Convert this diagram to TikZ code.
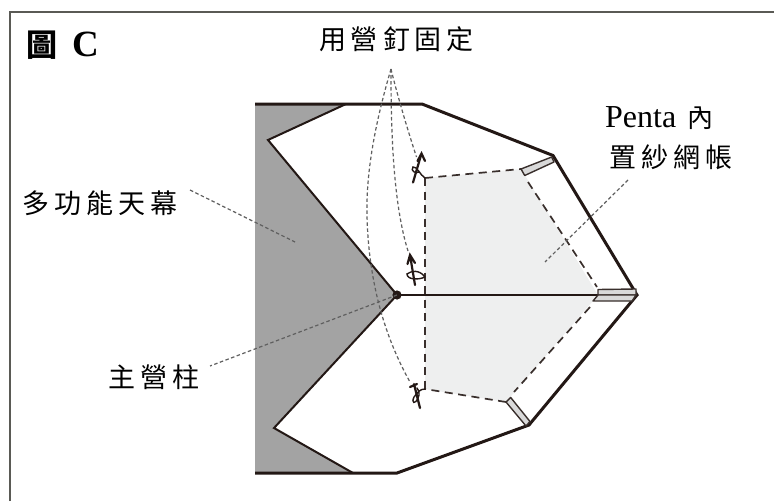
\documentclass[tikz,border=0pt]{standalone}
\usepackage{fontspec}
\setmainfont{Liberation Serif}
\newfontfamily\cjk[LetterSpace=18.5]{Noto Sans CJK TC}
\newfontfamily\cjkplain{Noto Sans CJK TC}
\definecolor{ink}{HTML}{231815}
\definecolor{lead}{HTML}{5F5F5F}
\definecolor{groundgray}{HTML}{A3A3A3}
\definecolor{netgray}{HTML}{EEEFEF}
\definecolor{tabgray}{HTML}{D9D9D9}
\definecolor{framegray}{HTML}{5A5A55}
\tikzset{
  lbl/.style={inner sep=0pt,font=\fontsize{27}{27}\selectfont\cjk,text=black},
  outline/.style={draw=ink,line width=3pt,line join=miter},
  fold/.style={draw=ink,line width=2pt},
  netdash/.style={draw=ink!90,line width=1.7pt,dash pattern=on 8pt off 5.5pt},
  leader/.style={draw=lead,line width=1.2pt,dash pattern=on 3.5pt off 2.5pt},
  pin/.style={draw=ink,line width=2.2pt,line cap=round},
  pinloop/.style={draw=ink,line width=1.4pt,line cap=round},
  tabbox/.style={draw=ink!90,fill=tabgray,line width=1.4pt,line join=round}
}
\begin{document}
\begin{tikzpicture}[x=1pt,y=-1pt]
\useasboundingbox (0,0) rectangle (774,501);
\fill[white] (0,0) rectangle (774,501);
% frame (top and left only)
\draw[framegray,line width=2pt] (9.5,501) -- (9.5,12) -- (774,12);
% points
\coordinate (hub) at (397,295);
\coordinate (tip) at (637,295);
\coordinate (n1) at (425,178);
\coordinate (n2) at (521,169);
\coordinate (n3) at (598,295);
\coordinate (n4) at (506,402);
\coordinate (n5) at (425,389);
\coordinate (conv) at (391,69);
% shaded groundsheet and net
\fill[groundgray] (255,104) -- (346,104) -- (268,140) -- (hub) -- (274,428) -- (353,473) -- (255,473) -- cycle;
\fill[netgray] (n1) -- (n2) -- (n3) -- (n4) -- (n5) -- cycle;
% outlines
\draw[fold] (346,104) -- (268,140) -- (hub) -- (274,428) -- (353,473);
\draw[outline] (255,104) -- (422,104) -- (553,155.5) -- (tip) -- (529,425) -- (397,473) -- (255,473);
\draw[draw=ink,line width=1.6pt] (hub) -- (tip);
% net edges
\draw[netdash] (n1) -- (n2);
\draw[netdash] (528,182) -- (597,287);
\draw[netdash] (590,307) -- (514,392);
\draw[netdash] (n4) -- (n5);
\draw[netdash] (n1) -- (n5);
% tabs
\draw[tabbox] (n2) -- (551.7,157) -- (554,162) -- (524.7,175.5) -- cycle;
\draw[tabbox] (598,289.5) -- (636,289) -- (636,295) -- (598,295) -- cycle;
\draw[tabbox] (593,301) -- (598,295) -- (636,295) -- (632,301) -- cycle;
\draw[tabbox] (n4) -- (510.7,397.5) -- (530,421.5) -- (526,426) -- cycle;
% stakes
\draw[pin] (413,182.5) -- (421.5,153.5) (417.5,161) -- (421.5,153.5) -- (425,161);
\draw[pinloop] (n1) .. controls (420,175) and (417,166) .. (413,167) .. controls (410,171) and (416,174) .. (419,172);
\draw[pin] (415,285) -- (410,255) (407.5,264) -- (410,255) -- (415,263);
\draw[pinloop] (425,277) .. controls (419,269) and (411,271) .. (407,274) .. controls (407,280) and (419,280) .. (425,277);
\draw[pin] (420,408) -- (414,384) (410,387) -- (417,384);
\draw[pinloop] (n5) .. controls (420,389) and (418,392) .. (414,397) .. controls (411,403) and (415,405) .. (418,398) .. controls (420,394) and (419,391) .. (417,388);
% anchor dot
\fill[ink] (hub) circle (4.6pt);
% leaders
\draw[leader] (conv) .. controls (396,90) and (406,125) .. (416.5,157);
\draw[leader] (conv) .. controls (391,120) and (392,200) .. (408,251);
\draw[leader] (conv) .. controls (376,120) and (366,170) .. (367,215) .. controls (368,265) and (378,325) .. (410,382);
\draw[leader] (190,190) -- (295,242);
\draw[leader] (hub) -- (210,366);
\draw[leader] (628,180) -- (545,262);
% labels
\node[lbl,anchor=center] (t1) at (396.5,39) {用營釘固定};
\node[lbl,anchor=center] (t2) at (100,203) {多功能天幕};
\node[lbl,anchor=center] (t3) at (154,377) {主營柱};
\node[lbl,anchor=center] (t4) at (671,157) {置紗網帳};
\node[inner sep=0pt,anchor=base west] (t5) at (605,127) {\fontsize{32}{32}\selectfont Penta\hspace{11pt}\fontsize{26}{26}\selectfont\cjkplain 內};
\node[inner sep=0pt,anchor=base west] (t6) at (26,56) {\fontsize{31}{31}\selectfont\cjkplain\bfseries 圖\hspace{15pt}\fontsize{37}{37}\selectfont\rmfamily\bfseries C};
\end{tikzpicture}
\end{document}
